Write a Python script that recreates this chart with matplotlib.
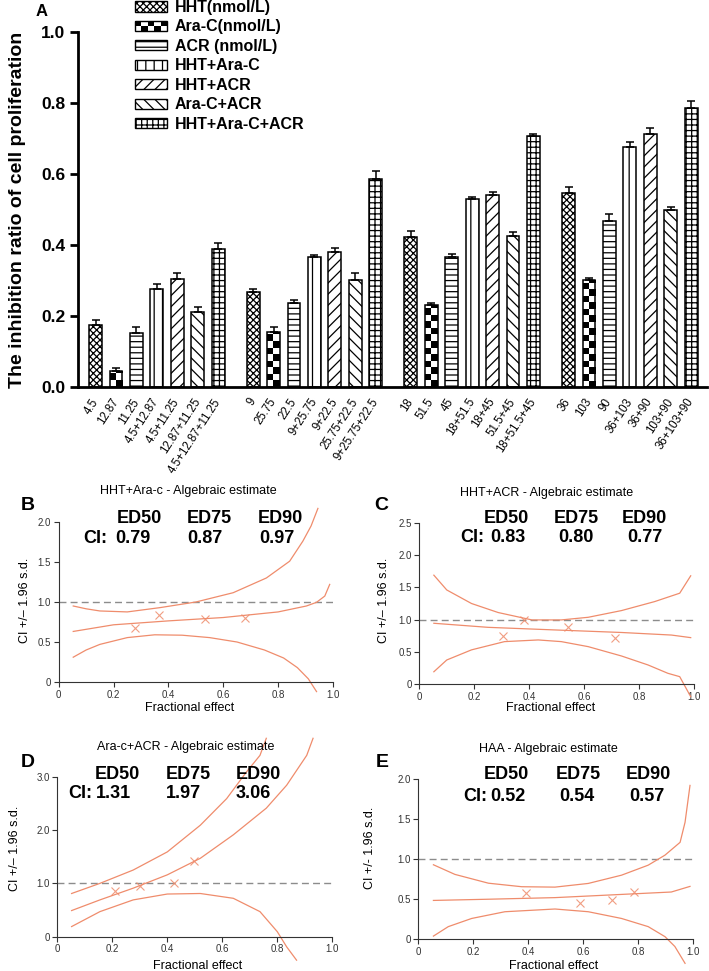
import numpy as np
import matplotlib
matplotlib.use('Agg')
import matplotlib.pyplot as plt
from matplotlib.patches import Patch, Rectangle
from matplotlib.legend_handler import HandlerBase

W, H = 709, 971
plt.rcParams['font.family'] = ['Liberation Sans', 'DejaVu Sans']
plt.rcParams['hatch.linewidth'] = 0.9

# ---------------- Panel A data ----------------
series_names = ['HHT(nmol/L)', 'Ara-C(nmol/L)', 'ACR (nmol/L)', 'HHT+Ara-C',
                'HHT+ACR', 'Ara-C+ACR', 'HHT+Ara-C+ACR']
hht = [0.175, 0.268, 0.423, 0.546]
hht_err = [0.014, 0.009, 0.016, 0.016]
arac = [0.046, 0.156, 0.231, 0.301]
arac_err = [0.007, 0.012, 0.007, 0.005]
acr = [0.153, 0.237, 0.365, 0.469]
acr_err = [0.015, 0.008, 0.009, 0.018]
hht_arac = [0.275, 0.365, 0.530, 0.677]
hht_arac_err = [0.014, 0.006, 0.006, 0.014]
hht_acr = [0.303, 0.379, 0.541, 0.713]
hht_acr_err = [0.017, 0.013, 0.008, 0.017]
arac_acr = [0.210, 0.301, 0.425, 0.500]
arac_acr_err = [0.016, 0.019, 0.012, 0.008]
triple = [0.390, 0.586, 0.707, 0.787]
triple_err = [0.015, 0.023, 0.007, 0.019]

tick_labels = [
    ['4.5', '12.87', '11.25', '4.5+12.87', '4.5+11.25', '12.87+11.25', '4.5+12.87+11.25'],
    ['9', '25.75', '22.5', '9+25.75', '9+22.5', '25.75+22.5', '9+25.75+22.5'],
    ['18', '51.5', '45', '18+51.5', '18+45', '51.5+45', '18+51.5+45'],
    ['36', '103', '90', '36+103', '36+90', '103+90', '36+103+90'],
]

# ---------------- Panels B-E data ----------------
ed_labels = ['ED50', 'ED75', 'ED90']

B_ci = ['0.79', '0.87', '0.97']
B_up_x = [0.053, 0.10, 0.15, 0.25, 0.37, 0.50, 0.636, 0.757, 0.842, 0.89, 0.92, 0.945]
B_up_y = [0.95, 0.915, 0.888, 0.876, 0.93, 1.0, 1.116, 1.30, 1.51, 1.76, 1.95, 2.17]
B_mid_x = [0.053, 0.20, 0.40, 0.60, 0.80, 0.903, 0.94, 0.97, 0.988]
B_mid_y = [0.632, 0.715, 0.764, 0.806, 0.876, 0.95, 0.996, 1.074, 1.22]
B_lo_x = [0.053, 0.10, 0.15, 0.25, 0.35, 0.45, 0.55, 0.65, 0.75, 0.82, 0.87, 0.91, 0.94]
B_lo_y = [0.31, 0.40, 0.47, 0.555, 0.59, 0.585, 0.555, 0.50, 0.40, 0.30, 0.18, 0.04, -0.12]
B_pt_x = [0.278, 0.366, 0.532, 0.678]
B_pt_y = [0.67, 0.84, 0.79, 0.806]

C_ci = ['0.83', '0.80', '0.77']
C_up_x = [0.053, 0.10, 0.19, 0.287, 0.41, 0.517, 0.615, 0.736, 0.857, 0.948, 0.988]
C_up_y = [1.69, 1.46, 1.25, 1.11, 0.995, 0.995, 1.036, 1.14, 1.28, 1.41, 1.68]
C_mid_x = [0.053, 0.25, 0.49, 0.736, 0.918, 0.988]
C_mid_y = [0.943, 0.88, 0.84, 0.80, 0.76, 0.72]
C_lo_x = [0.053, 0.10, 0.19, 0.31, 0.433, 0.517, 0.615, 0.736, 0.833, 0.905, 0.948, 0.988]
C_lo_y = [0.19, 0.373, 0.53, 0.658, 0.684, 0.658, 0.58, 0.435, 0.295, 0.166, 0.114, -0.197]
C_pt_x = [0.303, 0.38, 0.542, 0.714]
C_pt_y = [0.746, 0.995, 0.89, 0.72]

D_ci = ['1.31', '1.97', '3.06']
D_up_x = [0.052, 0.155, 0.276, 0.40, 0.52, 0.616, 0.688, 0.737, 0.76]
D_up_y = [0.81, 1.0, 1.25, 1.59, 2.09, 2.59, 3.09, 3.40, 3.72]
D_mid_x = [0.052, 0.155, 0.276, 0.40, 0.52, 0.64, 0.76, 0.834, 0.907, 0.93]
D_mid_y = [0.49, 0.69, 0.91, 1.16, 1.47, 1.91, 2.41, 2.84, 3.40, 3.72]
D_lo_x = [0.052, 0.155, 0.276, 0.40, 0.52, 0.64, 0.737, 0.80, 0.834, 0.87]
D_lo_y = [0.19, 0.47, 0.69, 0.80, 0.81, 0.72, 0.47, 0.094, -0.19, -0.44]
D_pt_x = [0.21, 0.30, 0.424, 0.498]
D_pt_y = [0.856, 0.956, 1.01, 1.42]

E_ci = ['0.52', '0.54', '0.57']
E_up_x = [0.055, 0.133, 0.255, 0.376, 0.497, 0.618, 0.739, 0.836, 0.897, 0.952, 0.97, 0.988]
E_up_y = [0.93, 0.81, 0.70, 0.656, 0.651, 0.697, 0.80, 0.925, 1.05, 1.21, 1.46, 1.92]
E_mid_x = [0.055, 0.255, 0.497, 0.739, 0.92, 0.988]
E_mid_y = [0.485, 0.50, 0.52, 0.56, 0.59, 0.66]
E_lo_x = [0.055, 0.109, 0.194, 0.315, 0.497, 0.618, 0.739, 0.836, 0.897, 0.933, 0.97]
E_lo_y = [0.04, 0.158, 0.26, 0.344, 0.378, 0.344, 0.26, 0.158, 0.033, -0.09, -0.30]
E_pt_x = [0.39, 0.587, 0.705, 0.785]
E_pt_y = [0.573, 0.448, 0.49, 0.593]

# ---------------- figure ----------------
fig = plt.figure(figsize=(W / 100, H / 100), dpi=100)


def rect(l, t, r, b):
    return [l / W, 1 - b / H, (r - l) / W, (b - t) / H]


def fxy(x, y):
    return x / W, 1 - y / H


class HandlerChecker(HandlerBase):
    def __init__(self, ncols=5, nrows=2, **kw):
        super().__init__(**kw)
        self.ncols, self.nrows = ncols, nrows

    def create_artists(self, legend, orig_handle, xdescent, ydescent,
                       width, height, fontsize, trans):
        arts = []
        x0, y0 = -xdescent, -ydescent
        cw, ch = width / self.ncols, height / self.nrows
        for i in range(self.nrows):
            for j in range(self.ncols):
                if (i + j) % 2 == 1:
                    arts.append(Rectangle((x0 + j * cw, y0 + i * ch), cw, ch,
                                          facecolor='black', edgecolor='none',
                                          transform=trans))
        arts.append(Rectangle((x0, y0), width, height, facecolor='none',
                              edgecolor='black', lw=1.0, transform=trans))
        return arts


# ---------------- Panel A ----------------
axA = fig.add_axes(rect(78, 32, 707, 387))
values = [hht, arac, acr, hht_arac, hht_acr, arac_acr, triple]
errors = [hht_err, arac_err, acr_err, hht_arac_err, hht_acr_err, arac_acr_err, triple_err]
hatches = ['xxxxx', None, '---', '||', '///', '\\\\\\', '+++']
group_step = 7.72
bw = 0.63
cell_h = 0.0183
all_x, all_lab = [], []
for s, (vals, err, hatch) in enumerate(zip(values, errors, hatches)):
    x = np.arange(len(vals)) * group_step + s
    bars = axA.bar(x, vals, bw, facecolor='none' if s == 1 else 'white',
                   edgecolor='black', lw=1.1, hatch=hatch, zorder=2)
    axA.errorbar(x, vals, yerr=[np.zeros(len(vals)), err], fmt='none',
                 ecolor='black', elinewidth=1.1, capsize=3, capthick=1.1, zorder=3)
    if s == 1:
        for b in bars:
            nrow = int(np.ceil(b.get_height() / cell_h))
            grid = np.add.outer(np.arange(nrow), np.arange(2)) % 2
            im = axA.imshow(grid, extent=(b.get_x(), b.get_x() + b.get_width(), 0, nrow * cell_h),
                            origin='lower', cmap='gray_r', vmin=0, vmax=1, aspect='auto',
                            interpolation='nearest', zorder=1.5)
            im.set_clip_path(b)
for g in range(4):
    for s in range(7):
        all_x.append(g * group_step + s)
        all_lab.append(tick_labels[g][s])

axA.set_xlim(-0.86, 3 * group_step + 6 + 0.78)
axA.set_ylim(0, 1.0)
for sp in ['top', 'right']:
    axA.spines[sp].set_visible(False)
axA.spines['left'].set_linewidth(2)
axA.spines['bottom'].set_linewidth(2)
yt = np.arange(0, 1.01, 0.2)
axA.set_yticks(yt)
axA.set_yticklabels([f'{v:.1f}' for v in yt], fontweight='bold')
axA.tick_params(axis='y', length=6, width=2, labelsize=12.5, pad=3)
axA.set_xticks(all_x)
axA.set_xticklabels(all_lab, rotation=57, ha='right', va='center',
                    rotation_mode='anchor', fontsize=8.3)
axA.tick_params(axis='x', length=0, pad=9)

handles = []
hm = {}
for s, (name, hatch) in enumerate(zip(series_names, hatches)):
    p = Patch(facecolor='white', edgecolor='black', hatch=hatch, lw=1.0)
    if s == 1:
        hm[p] = HandlerChecker()
    handles.append(p)
axA.legend(handles, series_names, handler_map=hm, loc='upper left',
           bbox_to_anchor=fxy(135, 0), bbox_transform=fig.transFigure,
           frameon=False, prop={'weight': 'bold', 'size': 11.5},
           handlelength=2.0, handleheight=0.62, handletextpad=0.5,
           labelspacing=0.28, borderpad=0, borderaxespad=0)

fig.text(*fxy(18, 210), 'The inhibition ratio of cell proliferation', rotation=90,
         ha='center', va='center', fontsize=14, fontweight='bold')
fig.text(*fxy(36, 11), 'A', ha='left', va='center', fontsize=12, fontweight='bold')

# ---------------- Panels B-E ----------------
orange = '#EF8C6C'


def ci_panel(px, ymax, yticks, curves, pts, ci_vals, lay):
    ax = fig.add_axes(rect(*px))
    ax.set_xlim(0, 1)
    ax.set_ylim(0, ymax)
    for sp in ['top', 'right']:
        ax.spines[sp].set_visible(False)
    for sp in ['left', 'bottom']:
        ax.spines[sp].set_linewidth(0.8)
        ax.spines[sp].set_color('#333333')
    xt = [0, 0.2, 0.4, 0.6, 0.8, 1.0]
    ax.set_xticks(xt)
    ax.set_xticklabels(['0'] + [f'{v:.1f}' for v in xt[1:]])
    ax.set_yticks(yticks)
    ax.set_yticklabels(['0'] + [f'{v:.1f}' for v in yticks[1:]])
    ax.tick_params(length=3.5, width=0.8, labelsize=7, colors='#333333', pad=2)
    ax.axhline(1.0, color='#8c8c8c', lw=1.0, dashes=(5, 3), zorder=1)
    for cx, cy in curves:
        ax.plot(cx, cy, color=orange, lw=0.9, clip_on=False, zorder=2)
    ax.plot(pts[0], pts[1], 'x', ms=6, mew=0.8, color=orange, alpha=0.85,
            linestyle='none', zorder=3)
    tb = ax.transAxes
    for lab, ex in zip(ed_labels, lay['ed_x']):
        ax.text(ex, lay['ed_y'], lab, transform=tb, ha='center', va='center',
                fontsize=13, fontweight='bold')
    ax.text(lay['ci_x'], lay['ci_y'], 'CI:', transform=tb, ha='left', va='center',
            fontsize=13, fontweight='bold')
    for v, vx in zip(ci_vals, lay['val_x']):
        ax.text(vx, lay['ci_y'], v, transform=tb, ha='center', va='center',
                fontsize=13, fontweight='bold')
    fig.text(*fxy(*lay['title_xy']), lay['title'], ha='center', va='center', fontsize=9)
    fig.text(*fxy(*lay['letter_xy']), lay['letter'], ha='left', va='center',
             fontsize=14, fontweight='bold')
    fig.text(*fxy(*lay['ylab_xy']), lay['ylab'], rotation=90, ha='center',
             va='center', fontsize=9)
    fig.text(*fxy(*lay['xlab_xy']), 'Fractional effect', ha='center', va='center',
             fontsize=9)
    return ax


ci_panel((58.7, 522, 333, 682), 2.0, [0, 0.5, 1.0, 1.5, 2.0],
         [(B_up_x, B_up_y), (B_mid_x, B_mid_y), (B_lo_x, B_lo_y)],
         (B_pt_x, B_pt_y), B_ci,
         dict(ed_x=[0.293, 0.548, 0.807], val_x=[0.271, 0.534, 0.796],
              ci_x=0.089, ed_y=1.019, ci_y=0.894,
              title='HHT+Ara-c - Algebraic estimate', title_xy=(188, 491),
              letter='B', letter_xy=(21, 505), ylab='CI +/– 1.96 s.d.',
              ylab_xy=(25, 600), xlab_xy=(190, 708)))

ci_panel((419.3, 523, 694, 684), 2.5, [0, 0.5, 1.0, 1.5, 2.0, 2.5],
         [(C_up_x, C_up_y), (C_mid_x, C_mid_y), (C_lo_x, C_lo_y)],
         (C_pt_x, C_pt_y), C_ci,
         dict(ed_x=[0.316, 0.570, 0.821], val_x=[0.322, 0.570, 0.821],
              ci_x=0.148, ed_y=1.031, ci_y=0.907,
              title='HHT+ACR - Algebraic estimate', title_xy=(547, 493),
              letter='C', letter_xy=(374, 506), ylab='CI +/– 1.96 s.d.',
              ylab_xy=(384, 600), xlab_xy=(551, 708)))

ci_panel((57.3, 776.7, 332.3, 936.7), 3.0, [0, 1.0, 2.0, 3.0],
         [(D_up_x, D_up_y), (D_mid_x, D_mid_y), (D_lo_x, D_lo_y)],
         (D_pt_x, D_pt_y), D_ci,
         dict(ed_x=[0.217, 0.475, 0.73], val_x=[0.205, 0.457, 0.712],
              ci_x=0.039, ed_y=1.011, ci_y=0.892,
              title='Ara-c+ACR - Algebraic estimate', title_xy=(186, 747),
              letter='D', letter_xy=(21, 762), ylab='CI +/– 1.96 s.d.',
              ylab_xy=(15, 848), xlab_xy=(198, 966)))

ci_panel((418.3, 779, 693.3, 939.3), 2.0, [0, 0.5, 1.0, 1.5, 2.0],
         [(E_up_x, E_up_y), (E_mid_x, E_mid_y), (E_lo_x, E_lo_y)],
         (E_pt_x, E_pt_y), E_ci,
         dict(ed_x=[0.319, 0.581, 0.835], val_x=[0.325, 0.578, 0.832],
              ci_x=0.163, ed_y=1.031, ci_y=0.888,
              title='HAA - Algebraic estimate', title_xy=(548, 749),
              letter='E', letter_xy=(376, 762), ylab='CI +/- 1.96 s.d.',
              ylab_xy=(370, 848), xlab_xy=(554, 966)))

fig.savefig('out.png', dpi=100)
